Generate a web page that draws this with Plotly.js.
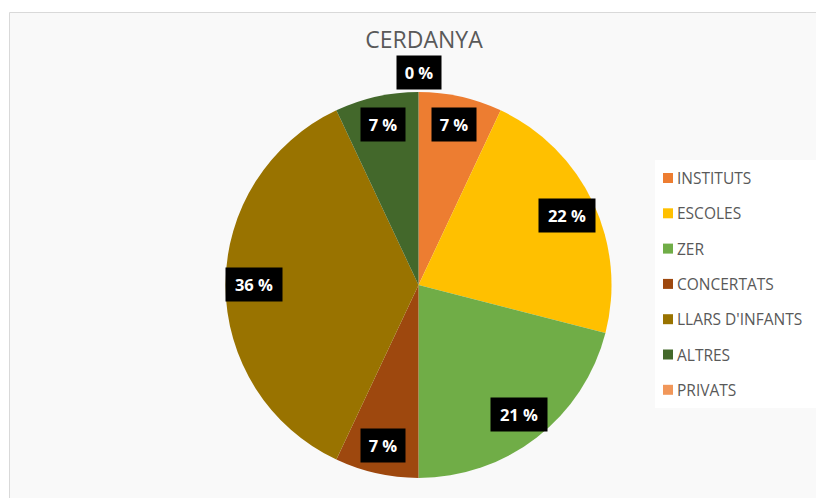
<!DOCTYPE html>
<html>
<head>
<meta charset="utf-8">
<script src="https://cdn.plot.ly/plotly-3.0.1.min.js"></script>
<style>html,body{margin:0;padding:0;background:#fff;}#chart{width:816px;height:498px;}</style>
</head>
<body>
<div id="chart"></div>
<script>
var categories = ["INSTITUTS", "ESCOLES", "ZER", "CONCERTATS", "LLARS D'INFANTS", "ALTRES", "PRIVATS"];
var values = [7, 22, 21, 7, 36, 7, 0];
var colors = ["#ED7D31", "#FFC000", "#70AD47", "#9E480E", "#997300", "#43682B", "#F1975A"];
var chartTitle = "CERDANYA";

var W = 816, H = 498;
var dom = {x: [0.2764, 0.7494], y: [0.0402, 0.8153]};

var trace = {
  type: 'pie',
  labels: categories,
  values: values,
  marker: {colors: colors, line: {width: 0}},
  sort: false,
  direction: 'clockwise',
  rotation: 0,
  textinfo: 'none',
  hoverinfo: 'label+percent',
  domain: dom,
  showlegend: false
};

// pie geometry in pixels, derived from domain
var dx0 = dom.x[0] * W, dx1 = dom.x[1] * W;
var dy0 = (1 - dom.y[1]) * H, dy1 = (1 - dom.y[0]) * H;
var cx = (dx0 + dx1) / 2, cy = (dy0 + dy1) / 2;
var R = Math.min(dx1 - dx0, dy1 - dy0) / 2;

var total = values.reduce(function (a, b) { return a + b; }, 0);
var annotations = [];
var shapes = [];

// chart area frame
shapes.push({type: 'rect', xref: 'paper', yref: 'paper', x0: 9.5 / W, x1: 1.05, y0: -0.05, y1: 1 - 12.5 / H,
  line: {color: '#d9d9d9', width: 1}, fillcolor: '#f9f9f9', layer: 'below'});
// legend background
shapes.push({type: 'rect', xref: 'paper', yref: 'paper', x0: 655 / W, x1: 1.0, y0: 1 - 408 / H, y1: 1 - 160 / H,
  line: {width: 0}, fillcolor: '#ffffff', layer: 'below'});

// data labels
var cum = 0;
for (var i = 0; i < values.length; i++) {
  var frac = values[i] / total;
  var mid = (cum + frac / 2) * 2 * Math.PI;
  cum += frac;
  var rf = frac > 0 ? 0.85 : 1.1;
  var px = cx + rf * R * Math.sin(mid);
  var py = cy - rf * R * Math.cos(mid);
  var txt = Math.round(frac * 100) + ' %';
  annotations.push({
    xref: 'paper', yref: 'paper', x: px / W, y: 1 - py / H,
    text: '<b>' + txt + '</b>', showarrow: false,
    font: {family: 'Open Sans, sans-serif', size: 16.5, color: '#ffffff'},
    bgcolor: '#000000', width: txt.length > 3 ? 54 : 42, height: 31,
    xanchor: 'center', yanchor: 'middle'
  });
}

// legend drawn from categories and colors
var lx = 663, ly0 = 178, lstep = 35.3;
for (var j = 0; j < categories.length; j++) {
  var yy = ly0 + j * lstep;
  shapes.push({type: 'rect', xref: 'paper', yref: 'paper',
    x0: lx / W, x1: (lx + 10) / W, y0: 1 - (yy + 5) / H, y1: 1 - (yy - 5) / H,
    fillcolor: colors[j], line: {width: 0}});
  annotations.push({xref: 'paper', yref: 'paper', x: (lx + 12) / W, y: 1 - yy / H,
    text: categories[j], showarrow: false, xanchor: 'left', yanchor: 'middle',
    font: {family: 'Open Sans, sans-serif', size: 15.5, color: '#595959'}});
}

var layout = {
  width: W, height: H,
  margin: {l: 0, r: 0, t: 0, b: 0},
  paper_bgcolor: '#ffffff',
  title: {text: chartTitle, x: 424 / W, xanchor: 'center', y: 1 - 40 / H, yanchor: 'middle',
    font: {family: 'Open Sans, sans-serif', size: 23, color: '#595959'}},
  shapes: shapes,
  annotations: annotations,
  showlegend: false
};

Plotly.newPlot('chart', [trace], layout, {displayModeBar: false, staticPlot: true});
</script>
</body>
</html>
